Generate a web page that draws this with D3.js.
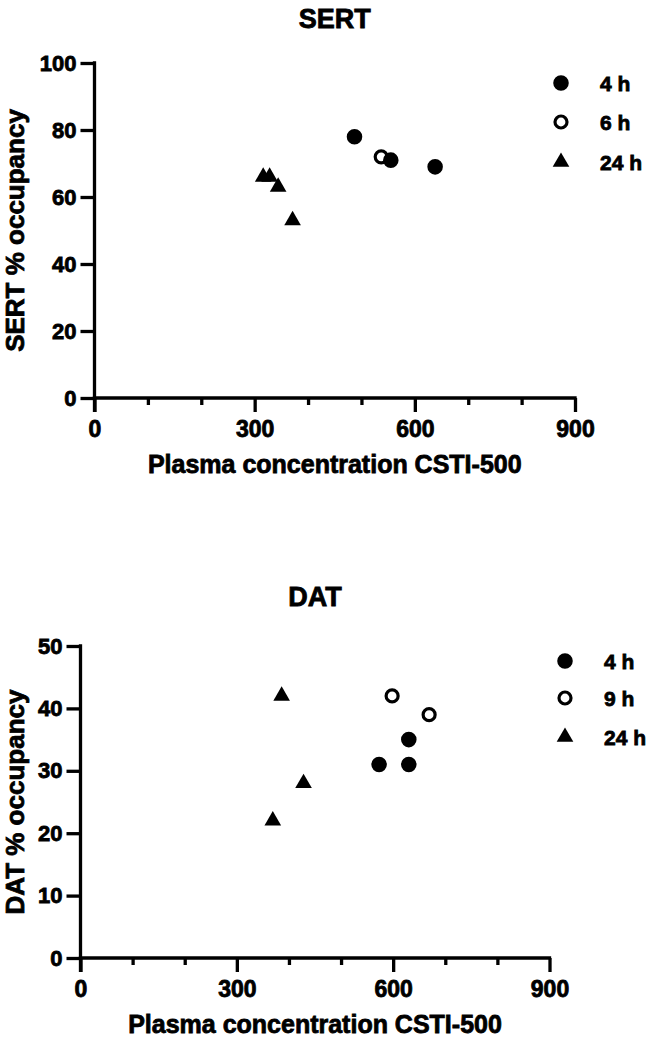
<!DOCTYPE html>
<html>
<head>
<meta charset="utf-8">
<script src="https://cdn.jsdelivr.net/npm/d3@7/dist/d3.min.js"></script>
<style>
  body { margin: 0; background: #fff; }
  svg { display: block; }
  text { font-family: "Liberation Sans", Arial, sans-serif; font-weight: bold; fill: #000; stroke: #000; stroke-width: 0.8px; }
</style>
</head>
<body>
<svg id="chart" width="647" height="1039"></svg>
<script>
// ---- Data ----
const xTicks = [0, 300, 600, 900];
const xMinorTicks = [100, 200, 400, 500, 700, 800];
const sertYTicks = [0, 20, 40, 60, 80, 100];
const datYTicks = [0, 10, 20, 30, 40, 50];

const sertLegend = ["4 h", "6 h", "24 h"];
const datLegend = ["4 h", "9 h", "24 h"];

const sertX4 = [487, 555, 638];
const sertY4 = [78, 71, 69];
const sertX6 = [537];
const sertY6 = [72];
const sertX24 = [316, 328, 344, 371];
const sertY24 = [66, 66, 63, 53];

const datX4 = [573, 630, 630];
const datY4 = [31, 35, 31];
const datX9 = [598, 669];
const datY9 = [42, 39];
const datX24 = [386, 428, 369];
const datY24 = [42, 28, 22];

const svg = d3.select("#chart");
const LW = 3.3;

function drawPanel(p) {
  const x = d3.scaleLinear().domain([0, 900]).range([p.left, p.right]);
  const y = d3.scaleLinear().domain([0, p.yMax]).range([p.bottom, p.top]);
  const g = svg.append("g");

  // title
  g.append("text").attr("x", (p.left + p.right) / 2).attr("y", p.titleY)
    .attr("text-anchor", "middle").attr("dominant-baseline", "central")
    .style("font-size", "27px").text(p.title);

  // x axis
  const xAxis = d3.axisBottom(x).tickValues(xTicks).tickSize(14).tickPadding(5).tickFormat(d3.format("d"));
  const xa = g.append("g").attr("transform", `translate(0,${p.bottom})`).call(xAxis);
  xa.select(".domain").attr("d", `M${p.left - LW / 2},0H${p.right + LW / 2}`);
  xa.selectAll(".tick line").attr("stroke-width", LW).attr("stroke", "#000");
  xa.selectAll(".tick text").style("font-size", "23px").attr("dy", "0.85em");
  const xMinor = d3.axisBottom(x).tickValues(xMinorTicks).tickSize(7).tickFormat("");
  const xm = g.append("g").attr("transform", `translate(0,${p.bottom})`).call(xMinor);
  xm.select(".domain").remove();
  xm.selectAll(".tick line").attr("stroke-width", LW).attr("stroke", "#000");
  xa.select(".domain").attr("stroke-width", LW).attr("stroke", "#000");

  // y axis
  const yAxis = d3.axisLeft(y).tickValues(p.yTicks).tickSize(14).tickPadding(4).tickFormat(d3.format("d"));
  const ya = g.append("g").attr("transform", `translate(${p.left},0)`).call(yAxis);
  ya.select(".domain").attr("d", `M0,${p.bottom + 14}V${p.top - LW / 2}`).attr("stroke-width", LW).attr("stroke", "#000");
  ya.selectAll(".tick line").attr("stroke-width", LW).attr("stroke", "#000");
  ya.selectAll(".tick text").style("font-size", "22px");

  // axis titles
  g.append("text").attr("x", (p.left + p.right) / 2).attr("y", p.bottom + 66)
    .attr("text-anchor", "middle").attr("dominant-baseline", "central")
    .style("font-size", "25px").text("Plasma concentration CSTI-500");
  g.append("text").attr("transform", `translate(15,${(p.top + p.bottom) / 2}) rotate(-90)`)
    .attr("text-anchor", "middle").attr("dominant-baseline", "central")
    .style("font-size", "26px").text(p.yLabel);

  const tri = d3.symbol().type(d3.symbolTriangle).size(120);
  const dot = d3.symbol().type(d3.symbolCircle).size(190);

  // series
  const s4 = p.x4.map((v, i) => [v, p.y4[i]]);
  const sOpen = p.xOpen.map((v, i) => [v, p.yOpen[i]]);
  const s24 = p.x24.map((v, i) => [v, p.y24[i]]);

  g.selectAll(".tri").data(s24).join("path").attr("class", "tri")
    .attr("d", tri).attr("transform", d => `translate(${x(d[0])},${y(d[1])})`).attr("fill", "#000");
  g.selectAll(".open").data(sOpen).join("circle").attr("class", "open")
    .attr("cx", d => x(d[0])).attr("cy", d => y(d[1])).attr("r", 6)
    .attr("fill", "#fff").attr("stroke", "#000").attr("stroke-width", 3.2);
  g.selectAll(".dot").data(s4).join("path").attr("class", "dot")
    .attr("d", dot).attr("transform", d => `translate(${x(d[0])},${y(d[1])})`).attr("fill", "#000");

  // legend
  const lg = g.append("g");
  p.legend.forEach((label, i) => {
    const ly = p.legendY[i];
    if (i === 0) {
      lg.append("path").attr("d", dot).attr("transform", `translate(${p.legendX},${ly})`).attr("fill", "#000");
    } else if (i === 1) {
      lg.append("circle").attr("cx", p.legendX).attr("cy", ly).attr("r", 6)
        .attr("fill", "#fff").attr("stroke", "#000").attr("stroke-width", 3.2);
    } else {
      lg.append("path").attr("d", tri).attr("transform", `translate(${p.legendX},${ly})`).attr("fill", "#000");
    }
    lg.append("text").attr("x", p.legendX + 39).attr("y", ly).attr("dominant-baseline", "central")
      .style("font-size", "21px").text(label);
  });
}

drawPanel({
  title: "SERT", titleY: 19, yLabel: "SERT % occupancy",
  left: 94.5, right: 575, top: 63, bottom: 398, yMax: 100, yTicks: sertYTicks,
  x4: sertX4, y4: sertY4, xOpen: sertX6, yOpen: sertY6, x24: sertX24, y24: sertY24,
  legend: sertLegend, legendX: 561, legendY: [83, 122, 162]
});

drawPanel({
  title: "DAT", titleY: 597, yLabel: "DAT % occupancy",
  left: 80.5, right: 549.5, top: 646, bottom: 958, yMax: 50, yTicks: datYTicks,
  x4: datX4, y4: datY4, xOpen: datX9, yOpen: datY9, x24: datX24, y24: datY24,
  legend: datLegend, legendX: 565, legendY: [661, 698, 737]
});
</script>
</body>
</html>
